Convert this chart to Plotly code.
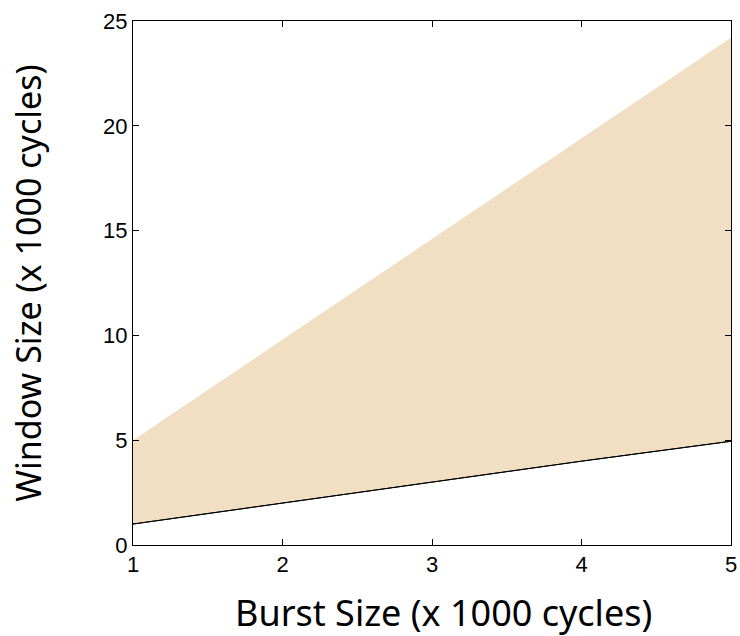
import plotly.graph_objects as go

burst = [1, 2, 3, 4, 5]
window_min = [1.0, 2.0, 3.0, 4.0, 4.95]
window_max = [5.0, 9.8, 14.6, 19.4, 24.2]
x_ticks = [1, 2, 3, 4, 5]
y_ticks = [0, 5, 10, 15, 20, 25]

fill_color = "#F1DFC3"

fig = go.Figure()
fig.add_trace(go.Scatter(x=burst, y=window_min, mode="lines",
                         line=dict(color="black", width=1), showlegend=False))
fig.add_trace(go.Scatter(x=burst, y=window_max, mode="lines", fill="tonexty",
                         fillcolor=fill_color, line=dict(color=fill_color, width=0),
                         showlegend=False))
# redraw lower line on top
fig.add_trace(go.Scatter(x=burst, y=window_min, mode="lines",
                         line=dict(color="black", width=1), showlegend=False))

axis_common = dict(showgrid=False, zeroline=False, showline=True, linecolor="black",
                   linewidth=1, mirror="ticks", ticks="inside", ticklen=6,
                   tickcolor="black", tickfont=dict(family="Liberation Sans", size=22, color="black"))

fig.update_xaxes(range=[1, 5], tickvals=x_ticks, ticktext=[str(v) for v in x_ticks],
                 **axis_common)
fig.update_yaxes(range=[0, 25], tickvals=y_ticks, ticktext=[str(v) for v in y_ticks],
                 title=dict(text="Window Size (x 1000 cycles)",
                            font=dict(family="Noto Sans", size=34, color="black"), standoff=51),
                 **axis_common)

fig.add_annotation(text="Burst Size (x 1000 cycles)", xref="paper", yref="paper",
                   x=0.52, y=0, yshift=-67, xanchor="center", yanchor="middle",
                   showarrow=False, font=dict(family="Noto Sans", size=36, color="black"))

fig.update_layout(width=740, height=636, plot_bgcolor="white", paper_bgcolor="white",
                  margin=dict(l=133, r=9, t=21, b=91, autoexpand=False))

fig.write_html("out.html")
